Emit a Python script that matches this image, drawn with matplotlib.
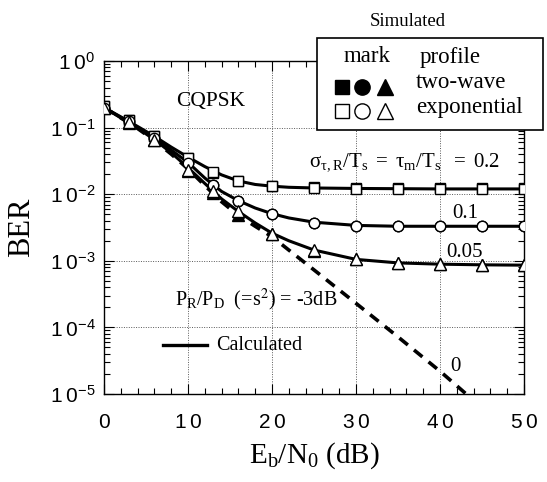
import numpy as np
import matplotlib
matplotlib.use("Agg")
import matplotlib.pyplot as plt
from matplotlib.patches import Rectangle
from matplotlib.lines import Line2D
from matplotlib.ticker import FixedLocator, FuncFormatter, LogLocator, NullFormatter

plt.rcParams["font.family"] = "Liberation Serif"
plt.rcParams["mathtext.fontset"] = "stix"
plt.rcParams["axes.linewidth"] = 1.0

# ---- data ----
calc_x = [0, 2, 4, 6, 8, 10, 12, 14, 16, 18, 20, 22, 25, 30, 35, 40, 45, 50]
calc_02 = [0.2, 0.145, 0.104, 0.074, 0.051, 0.036, 0.026, 0.0195, 0.0158, 0.0140,
           0.0132, 0.0127, 0.0124, 0.0122, 0.0121, 0.0120, 0.0120, 0.0120]
calc_01 = [0.2, 0.142, 0.100, 0.069, 0.046, 0.030, 0.0175, 0.011, 0.0080, 0.0062,
           0.0051, 0.0044, 0.0038, 0.0034, 0.0033, 0.0033, 0.0033, 0.0033]
calc_005 = [0.2, 0.140, 0.098, 0.066, 0.042, 0.025, 0.0145, 0.0085, 0.0055, 0.0037,
            0.0026, 0.0020, 0.00145, 0.00105, 0.00093, 0.00089, 0.00087, 0.00086]
calc0_x = [0, 2, 4, 6, 8, 10, 12, 14, 16, 18, 20, 22, 25, 30, 35, 40, 44]
calc_0 = [0.2, 0.140, 0.097, 0.064, 0.040, 0.024, 0.0135, 0.0077, 0.0048, 0.0033,
          0.0023, 0.00145, 7.3e-4, 2.3e-4, 7.2e-5, 2.2e-5, 8e-6]

sim_x = [0, 3, 6, 10, 13, 16, 20, 25, 30, 35, 40, 45, 50]
# exponential profile (open marks)
exp_02 = [0.21, 0.128, 0.075, 0.0353, 0.0214, 0.016, 0.0131, 0.0122, 0.0119, 0.0119, 0.0119, 0.0119, 0.0119]
exp_01 = [0.2, 0.124, 0.070, 0.029, 0.0139, 0.0079, 0.0051, 0.0037, 0.0033, 0.0033, 0.0033, 0.0033, 0.0033]
exp_005 = [0.2, 0.120, 0.066, 0.0227, 0.011, 0.0055, 0.00254, 0.00143, 0.00106, 0.00092, 0.00089, 0.00087, 0.00087]
# two-wave profile (filled marks)
tw_02 = [0.21, 0.128, 0.075, 0.035, 0.021, 0.016, 0.0135, 0.0127, 0.0126, 0.0126, 0.0126, 0.0126, 0.0126]
tw_01 = [0.2, 0.123, 0.069, 0.029, 0.0136, 0.0078, 0.0051, 0.0037, 0.0033, 0.0033, 0.0033, 0.0033, 0.0033]
tw_005 = [0.2, 0.119, 0.065, 0.022, 0.0105, 0.0048, 0.0025, 0.0014, 0.00105, 0.00092, 0.00089, 0.00087, 0.00087]

xticks = [0, 10, 20, 30, 40, 50]
yticks = [1e-5, 1e-4, 1e-3, 1e-2, 1e-1, 1e0]

W, H = 547, 482
fig = plt.figure(figsize=(W / 100, H / 100), dpi=100)
ax = fig.add_axes([104 / W, 1 - 394 / H, 420 / W, 333 / H])

def px(x, y):
    return x / W, 1 - y / H

# calculated curves
for cy in (calc_02, calc_01, calc_005):
    ax.plot(calc_x, cy, color="k", lw=2.2, zorder=3)
ax.plot(calc0_x, calc_0, color="k", lw=2.6, ls=(0, (3.0, 2.2)), zorder=3)

# simulated marks
mk = [("s", 7, tw_02, exp_02), ("o", 7.5, tw_01, exp_01), ("^", 8, tw_005, exp_005)]
for m, ms, tw, ex in mk:
    ax.plot(sim_x, tw, ls="none", marker=m, ms=ms, color="k", zorder=4)
    ax.plot(sim_x, ex, ls="none", marker=m, ms=ms, mfc="white", mec="k", mew=1.0, zorder=5)

ax.set_yscale("log")
ax.set_xlim(0, 50)
ax.set_ylim(1e-5, 1)

ax.xaxis.set_major_locator(FixedLocator(xticks))
ax.xaxis.set_minor_locator(FixedLocator(list(range(0, 51, 2))))
ax.yaxis.set_major_locator(FixedLocator(yticks))
ax.yaxis.set_minor_locator(LogLocator(base=10, subs=np.arange(2, 10)))
ax.yaxis.set_minor_formatter(NullFormatter())

def xfmt(v, pos):
    s = str(int(round(v)))
    return r"$\mathregular{" + r"\;".join(s) + "}$"

def yfmt(v, pos):
    e = int(round(np.log10(v)))
    return r"$\mathregular{1\;0^{%d}}$" % e

ax.xaxis.set_major_formatter(FuncFormatter(xfmt))
ax.yaxis.set_major_formatter(FuncFormatter(yfmt))
ax.tick_params(which="both", direction="in", top=True, right=True,
               labelfontfamily="Liberation Sans", labelsize=15)
ax.tick_params(which="major", length=7, width=0.8)
ax.tick_params(which="minor", length=4, width=0.8)
ax.tick_params(axis="x", pad=14)
ax.tick_params(axis="y", pad=6)

ax.grid(True, which="major", ls=(0, (1, 1.5)), lw=0.7, color="0.35")

ax.set_xlabel(r"$\mathregular{E_b/N_0}$ (dB)", fontsize=21, labelpad=6)
ax.set_ylabel("BER", fontsize=22, labelpad=10)

# annotations inside the plot
ax.text(8.6, 0.25, "CQPSK", fontsize=15.5, va="center", ha="left")
ax.text(24.4, 0.03, r"$\mathregular{\sigma_{\tau,R}/T_s\ =\ \tau_m/T_s\ \ =\ 0.2}$",
        fontsize=15, va="center", ha="left")
ax.text(41.4, 0.0052, "0.1", fontsize=15, va="center", ha="left")
ax.text(40.7, 0.00135, "0.05", fontsize=15, va="center", ha="left")
ax.text(41.8, 2.6e-5, "0", fontsize=15, va="center", ha="center")
ax.text(8.4, 2.1e-4, r"$\mathregular{P_R/P_D}$  (=s$^2$) = -3dB",
        fontsize=14.5, va="baseline", ha="left")
ax.plot([0.140, 0.245], [0.146, 0.146], transform=ax.transAxes, color="k", lw=2.4)
ax.text(0.267, 0.146, "Calculated", transform=ax.transAxes, fontsize=14.5,
        va="center", ha="left")

# simulated marks key box
bx0, by0 = px(317, 130)
bx1, by1 = px(543, 38)
fig.add_artist(Rectangle((bx0, by0), bx1 - bx0, by1 - by0, transform=fig.transFigure,
                         facecolor="white", edgecolor="k", lw=1.2, zorder=10))
fig.text(*px(408, 22), "Simulated", fontsize=13.5, ha="center", va="center")
fig.text(*px(367, 57), "mark", fontsize=16.5, ha="center", va="center", zorder=11)
fig.text(*px(450, 57), "profile", fontsize=16.5, ha="center", va="center", zorder=11)
fig.text(*px(416, 83), "two-wave", fontsize=16.5, ha="left", va="center", zorder=11)
fig.text(*px(416, 108), "exponential", fontsize=16.5, ha="left", va="center", zorder=11)
for m, mx, ms in (("s", 342, 10), ("o", 362, 11), ("^", 385, 11)):
    fig.add_artist(Line2D([px(mx, 87)[0]], [px(mx, 87)[1]], marker=m, ms=ms, color="k",
                          ls="none", transform=fig.transFigure, zorder=11))
    fig.add_artist(Line2D([px(mx, 111)[0]], [px(mx, 111)[1]], marker=m, ms=ms, mfc="white",
                          mec="k", mew=1.0, ls="none", transform=fig.transFigure, zorder=11))

fig.savefig("out.png", dpi=100)
